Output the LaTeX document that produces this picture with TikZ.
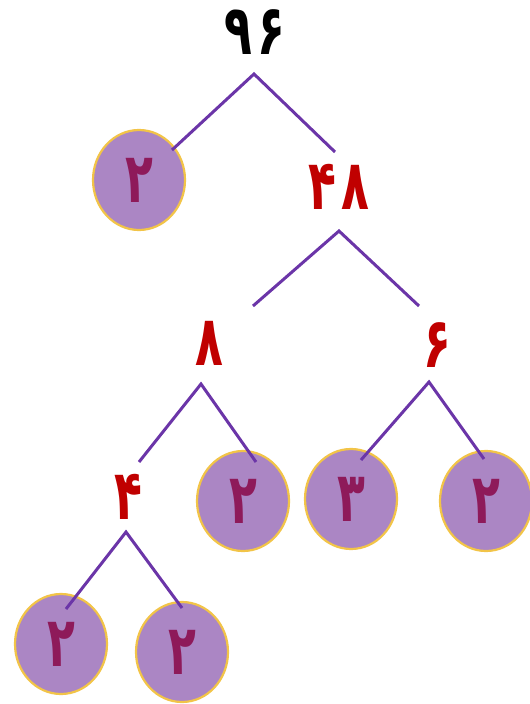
\documentclass[tikz,border=0pt]{standalone}
\usepackage{fontspec}
\newfontfamily\fadigits[Script=Arabic]{DejaVu Sans}
\definecolor{branch}{HTML}{6B35A8}
\definecolor{ballfill}{HTML}{AB86C4}
\definecolor{ballrim}{HTML}{F2C448}
\definecolor{balldigit}{HTML}{8E1A5A}
\definecolor{reddigit}{HTML}{C00000}
\newcommand{\tallnum}[1]{\scalebox{0.95}[1.45]{#1}}
\tikzset{
  numfont/.style={font=\fadigits\bfseries\fontsize{48}{48}\selectfont},
  ball/.style={ellipse, minimum width=92pt, minimum height=100pt, inner sep=0pt,
    fill=ballfill, draw=ballrim, line width=2.2pt, text=balldigit, numfont},
  rednum/.style={inner sep=0pt, text=reddigit, numfont},
  topnum/.style={inner sep=0pt, text=black, numfont},
  arm/.style={draw=branch, line width=3pt}
}
\usetikzlibrary{shapes.geometric}
\begin{document}
\begin{tikzpicture}[x=1pt,y=-1pt]
\useasboundingbox (0,0) rectangle (530,704);
% numbers
\node[topnum] (n96) at (255,32) {\tallnum{۹\kern5pt۶}};
\node[rednum] (n48) at (339,187) {\tallnum{۴\kern5pt۸}};
\node[rednum] (n8) at (209,343) {\tallnum{۸}};
\node[rednum] (n6) at (437,345) {\tallnum{۶}};
\node[rednum] (n4) at (128,497) {\tallnum{۴}};
% balls
\node[ball] (b1) at (139,180) {\tallnum{۲}};
\node[ball] (b2) at (243,501) {\tallnum{۲}};
\node[ball] (b3) at (351,499) {\tallnum{۳}};
\node[ball] (b4) at (486,501) {\tallnum{۲}};
\node[ball] (b5) at (61,644) {\tallnum{۲}};
\node[ball] (b6) at (182,652) {\tallnum{۲}};
% branch coordinates
\coordinate (a96) at (254,74);
\coordinate (l96) at (172,150);
\coordinate (r96) at (335,152);
\coordinate (a48) at (339,231);
\coordinate (l48) at (253,306);
\coordinate (r48) at (419,306);
\coordinate (a8) at (201,384);
\coordinate (l8) at (139,462);
\coordinate (r8) at (256,462);
\coordinate (a6) at (429,382);
\coordinate (l6) at (361,460);
\coordinate (r6) at (484,459);
\coordinate (a4) at (126,532);
\coordinate (l4) at (66,609);
\coordinate (r4) at (182,608);
% branches
\draw[arm] (l96) -- (a96) -- (r96);
\draw[arm] (l48) -- (a48) -- (r48);
\draw[arm] (l8) -- (a8) -- (r8);
\draw[arm] (l6) -- (a6) -- (r6);
\draw[arm] (l4) -- (a4) -- (r4);
\end{tikzpicture}
\end{document}
